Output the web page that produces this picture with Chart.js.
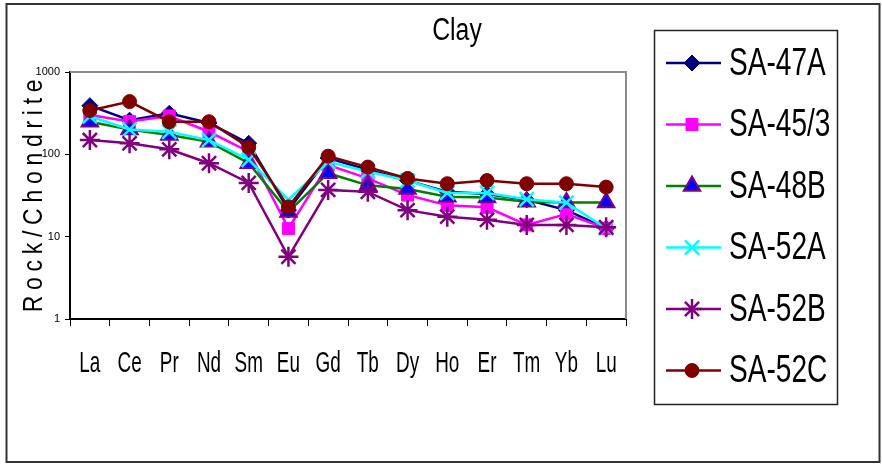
<!DOCTYPE html>
<html><head><meta charset="utf-8">
<script src="https://cdn.jsdelivr.net/npm/chart.js@4/dist/chart.umd.min.js"></script>
<style>html,body{margin:0;padding:0;background:#fff;}</style>
</head><body>
<canvas id="c" width="882" height="465"></canvas>
<script>
const categories = ['La','Ce','Pr','Nd','Sm','Eu','Gd','Tb','Dy','Ho','Er','Tm','Yb','Lu'];
const seriesNames = ['SA-47A','SA-45/3','SA-48B','SA-52A','SA-52B','SA-52C'];
const sa47A = [390, 260, 315, 240, 136, 21, 90, 65, 48, 35, 33, 28, 21, 12.6];
const sa45_3 = [300, 250, 292, 188, 108, 12.6, 74, 51, 32, 24, 22.7, 13.9, 18.8, 12.6];
const sa48B = [249, 200, 172, 142, 78, 20, 59, 42, 38, 30.6, 30, 26.6, 26, 26];
const sa52A = [290, 200, 188, 149, 86, 28, 81, 62, 48, 34, 34, 28.5, 25.9, 12.6];
const sa52B = [149, 136, 115, 78, 45, 5.7, 37, 35, 21, 17.5, 16, 13.9, 13.9, 13];
const sa52C = [340, 437, 249, 249, 122, 23, 95, 70, 51, 44, 48, 44, 44, 40];
const yTickValues = [1, 10, 100, 1000];
const chartTitle = 'Clay';
const yAxisTitle = 'Rock/Chondrite';

const FONT = '"Liberation Sans", Arial, sans-serif';

// horizontal condensing of text, keyed by font size (the reference uses a condensed face)
const condense = { 30: 0.63, 31: 0.8, 39: 0.72, 28: 0.82 };
const canvas = document.getElementById('c');
const ctx0 = canvas.getContext('2d');
const origFillText = ctx0.fillText.bind(ctx0);
ctx0.fillText = function (t, x, y, mw) {
  const m = /(\d+(?:\.\d+)?)px/.exec(this.font);
  const sx = m ? (condense[Math.round(parseFloat(m[1]))] || 1) : 1;
  this.save();
  this.translate(x, y);
  this.scale(sx, 1);
  if (mw === undefined) origFillText(t, 0, 0); else origFillText(t, 0, 0, mw / sx);
  this.restore();
};

const styles = [
  {color:'#000080', pointStyle:'rectRot', r:8, fill:'#000080', edge:'#000080', bw:1},
  {color:'#FF00FF', pointStyle:'rect', r:8.5, fill:'#FF00FF', edge:'#FF00FF', bw:1},
  {color:'#008000', pointStyle:'triangle', r:9.5, fill:'#0000FF', edge:'#800080', bw:2},
  {color:'#00FFFF', pointStyle:'crossRot', r:10, fill:'#00FFFF', edge:'#00FFFF', bw:2.5},
  {color:'#800080', pointStyle:'star', r:10, fill:'#800080', edge:'#800080', bw:2.5},
  {color:'#800000', pointStyle:'circle', r:7, fill:'#800000', edge:'#800000', bw:1}
];
const seriesData = [sa47A, sa45_3, sa48B, sa52A, sa52B, sa52C];

const datasets = seriesNames.map((name, i) => ({
  label: name,
  data: seriesData[i],
  borderColor: styles[i].color,
  backgroundColor: styles[i].fill,
  borderWidth: 2.5,
  pointStyle: styles[i].pointStyle,
  pointRadius: styles[i].r,
  pointBackgroundColor: styles[i].fill,
  pointBorderColor: styles[i].edge,
  pointBorderWidth: styles[i].bw,
  tension: 0,
  order: seriesNames.length - i
}));

const decor = {
  id: 'decor',
  afterDraw(chart) {
    const ctx = chart.ctx;
    const a = chart.chartArea;
    ctx.save();
    ctx.strokeStyle = '#8c8c8c';
    ctx.lineWidth = 2;
    ctx.beginPath();
    ctx.moveTo(a.left, a.top);
    ctx.lineTo(a.right, a.top);
    ctx.lineTo(a.right, a.bottom);
    ctx.stroke();
    ctx.strokeStyle = '#333';
    ctx.lineWidth = 2;
    ctx.strokeRect(6.5, 4, 873, 458);
    ctx.fillStyle = '#000';
    ctx.font = '31px ' + FONT;
    ctx.textAlign = 'center';
    ctx.textBaseline = 'middle';
    ctx.fillText(chartTitle, 457, 31);
    ctx.save();
    ctx.translate(34, 196);
    ctx.rotate(-Math.PI / 2);
    ctx.font = '28px ' + FONT;
    try { ctx.letterSpacing = '7px'; } catch (e) {}
    ctx.textAlign = 'center';
    ctx.textBaseline = 'middle';
    ctx.fillText(yAxisTitle, 3, 0);
    ctx.restore();
    ctx.strokeStyle = '#222';
    ctx.lineWidth = 1.5;
    ctx.strokeRect(654.5, 30.5, 183, 374);
    chart.data.datasets.forEach((ds, i) => {
      const y = 63 + i * 61.5;
      ctx.strokeStyle = ds.borderColor;
      ctx.lineWidth = 2.5;
      ctx.beginPath();
      ctx.moveTo(666, y);
      ctx.lineTo(721, y);
      ctx.stroke();
      ctx.fillStyle = ds.pointBackgroundColor;
      ctx.strokeStyle = ds.pointBorderColor;
      ctx.lineWidth = ds.pointBorderWidth;
      Chart.helpers.drawPoint(ctx, {pointStyle: ds.pointStyle, radius: ds.pointRadius, rotation: 0, borderWidth: ds.pointBorderWidth}, 692, y);
      ctx.fillStyle = '#000';
      ctx.font = '39px ' + FONT;
      ctx.textAlign = 'left';
      ctx.textBaseline = 'middle';
      ctx.fillText(ds.label, 729, y + 1);
    });
    ctx.restore();
  }
};

new Chart(canvas, {
  type: 'line',
  data: { labels: categories, datasets },
  options: {
    responsive: false,
    animation: false,
    devicePixelRatio: 1,
    layout: { padding: { top: 72, right: 256, left: 0, bottom: 0 } },
    plugins: { legend: { display: false }, title: { display: false }, tooltip: { enabled: false } },
    scales: {
      x: {
        type: 'category',
        offset: true,
        grid: { offset: true, drawOnChartArea: false, tickLength: 7, color: '#000', tickWidth: 1 },
        border: { color: '#000', width: 2 },
        ticks: { font: { family: FONT, size: 30 }, color: '#000', padding: 19.5, maxRotation: 0, autoSkip: false },
        afterFit(s) { s.height = 146; }
      },
      y: {
        type: 'logarithmic',
        min: 1,
        max: 1000,
        afterBuildTicks(s) { s.ticks = yTickValues.map(v => ({ value: v })); },
        grid: { drawOnChartArea: false, tickLength: 5, color: '#000', tickWidth: 1 },
        border: { color: '#000', width: 2 },
        ticks: { font: { family: FONT, size: 11 }, color: '#000', padding: 5, callback: v => String(v) },
        afterFit(s) { s.width = 70; }
      }
    }
  },
  plugins: [decor]
});
</script>
</body></html>
